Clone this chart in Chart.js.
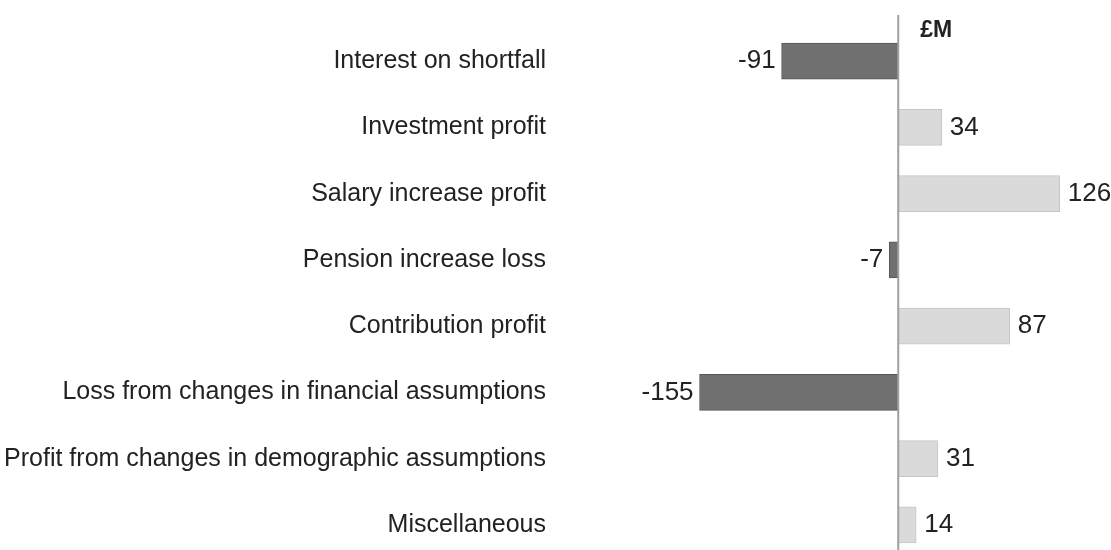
<!DOCTYPE html>
<html>
<head>
<meta charset="utf-8">
<script src="https://cdn.jsdelivr.net/npm/chart.js@4"></script>
<style>
  html,body{margin:0;padding:0;background:#fff;overflow:hidden;}
  canvas{display:block;}
</style>
</head>
<body>
<canvas id="chart" width="1111" height="583"></canvas>
<script>
/* ---------- DATA ---------- */
const categories = [
  'Interest on shortfall',
  'Investment profit',
  'Salary increase profit',
  'Pension increase loss',
  'Contribution profit',
  'Loss from changes in financial assumptions',
  'Profit from changes in demographic assumptions',
  'Miscellaneous'
];
const values = [-91, 34, 126, -7, 87, -155, 31, 14];
const unitLabel = '£M';

/* ---------- STYLE ---------- */
const FONT = '"Liberation Sans", Arial, sans-serif';
const TEXT = '#222';
const negFill = '#707070', negBorder = '#565656';
const posFill = '#dadada', posBorder = '#c6c6c6';

// zero axis line + value labels + unit heading
const annotate = {
  id:'annotate',
  afterDatasetsDraw(chart){
    const {ctx} = chart;
    const x = chart.scales.x, y = chart.scales.y;
    const x0 = x.getPixelForValue(0);
    ctx.save();
    ctx.strokeStyle = '#a0a0a0'; ctx.lineWidth = 2;
    ctx.beginPath(); ctx.moveTo(x0, 15); ctx.lineTo(x0, chart.height); ctx.stroke();

    ctx.font = `26px ${FONT}`; ctx.fillStyle = TEXT; ctx.textBaseline = 'middle';
    values.forEach((v,i)=>{
      const px = x.getPixelForValue(v), py = y.getPixelForValue(i);
      if(v<0){ ctx.textAlign='right'; ctx.fillText(String(v), px-6, py); }
      else { ctx.textAlign='left'; ctx.fillText(String(v), px+8, py); }
    });

    ctx.font = `bold 23px ${FONT}`; ctx.textAlign = 'left';
    ctx.fillText(unitLabel, x0+22, 31);
    ctx.restore();
  }
};

new Chart(document.getElementById('chart'), {
  type:'bar',
  data:{
    labels:categories,
    datasets:[{
      data:values,
      backgroundColor:values.map(v=>v<0?negFill:posFill),
      borderColor:values.map(v=>v<0?negBorder:posBorder),
      borderWidth:1,
      borderSkipped:false,
      barThickness:36
    }]
  },
  options:{
    indexAxis:'y',
    responsive:false,
    animation:false,
    layout:{padding:{top:28,bottom:1,left:0,right:0}},
    plugins:{legend:{display:false},tooltip:{enabled:false}},
    scales:{
      x:{display:false,min:-267,max:166},
      y:{
        grid:{display:false,drawTicks:false},
        border:{display:false},
        ticks:{color:TEXT,font:{family:FONT,size:25},padding:10},
        afterFit(scale){ scale.width = 556; }
      }
    }
  },
  plugins:[annotate]
});
</script>
</body>
</html>
